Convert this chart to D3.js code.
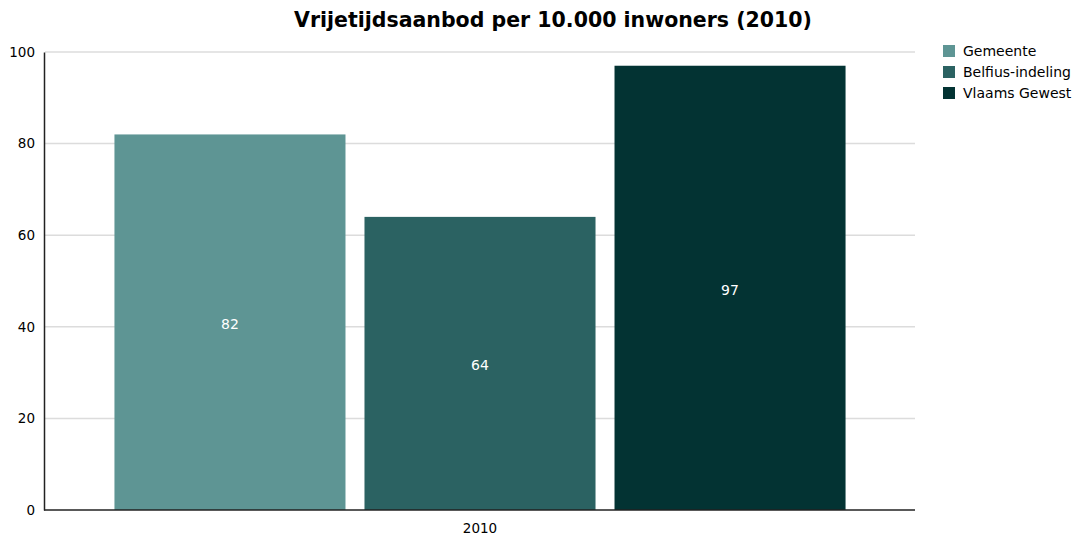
<!DOCTYPE html>
<html>
<head>
<meta charset="utf-8">
<title>Vrijetijdsaanbod</title>
<style>
    body { margin: 0; background: #fff; }
    text { font-family: "DejaVu Sans", Verdana, sans-serif; }
</style>
</head>
<body>
<script src="https://cdn.jsdelivr.net/npm/d3@7"></script>
<script>
    // gegevens
    var categories = ["2010"];
    var series = ["Gemeente", "Belfius-indeling", "Vlaams Gewest"];
    var values = [82, 64, 97];
    var colors = ["#5e9594", "#2b6262", "#033333"];
    var yTicks = [0, 20, 40, 60, 80, 100];

    var width = 1080, height = 542;
    // let op: "top" is een globale van window, dus andere namen
    var plotLeft = 45, plotRight = 915, plotTop = 52, plotBottom = 510;

    var svg = d3.select("body").append("svg")
        .attr("width", width)
        .attr("height", height);

    var y = d3.scaleLinear().domain([0, 100]).range([plotBottom, plotTop]);

    var x0 = d3.scaleBand().domain(categories)
        .range([plotLeft, plotRight])
        .paddingInner(0).paddingOuter(0.095);

    var x1 = d3.scaleBand().domain(series)
        .range([0, x0.bandwidth()])
        .paddingInner(0.076).paddingOuter(0);

    // rasterlijnen
    svg.append("g")
        .selectAll("line")
        .data(yTicks.filter(d => d > 0))
        .join("line")
        .attr("x1", plotLeft).attr("x2", plotRight)
        .attr("y1", d => y(d)).attr("y2", d => y(d))
        .attr("stroke", "#dcdcdc")
        .attr("stroke-width", 1.5);

    // y-as
    var yAxis = svg.append("g")
        .attr("transform", `translate(${plotLeft - 1},0)`)
        .call(d3.axisLeft(y).tickValues(yTicks).tickSize(0).tickPadding(9));
    yAxis.select(".domain").attr("stroke", "#222").attr("stroke-width", 1.5);
    yAxis.selectAll("text").attr("font-size", 13.5).attr("fill", "#000")
        .style("font-family", "'DejaVu Sans', Verdana, sans-serif");

    // staven
    var group = svg.append("g")
        .selectAll("g")
        .data(categories)
        .join("g")
        .attr("transform", d => `translate(${x0(d)},0)`);

    var bars = group.selectAll("g")
        .data(c => series.map((s, i) => ({ s: s, v: values[i], i: i })))
        .join("g");

    bars.append("rect")
        .attr("x", d => x1(d.s))
        .attr("y", d => y(d.v))
        .attr("width", x1.bandwidth())
        .attr("height", d => y(0) - y(d.v))
        .attr("fill", d => colors[d.i]);

    bars.append("text")
        .attr("x", d => x1(d.s) + x1.bandwidth() / 2)
        .attr("y", d => y(d.v / 2) + 2)
        .attr("dy", "0.35em")
        .attr("text-anchor", "middle")
        .attr("fill", "#fff")
        .attr("font-size", 14)
        .text(d => d.v);

    // x-as
    var xAxis = svg.append("g")
        .attr("transform", `translate(0,${plotBottom})`)
        .call(d3.axisBottom(x0).tickSize(0).tickPadding(13));
    xAxis.select(".domain").attr("stroke", "#222").attr("stroke-width", 1.5)
        .attr("d", `M${plotLeft - 1},0H${plotRight}`);
    xAxis.selectAll("text").attr("font-size", 13.5).attr("fill", "#000")
        .style("font-family", "'DejaVu Sans', Verdana, sans-serif");

    // titel
    svg.append("text")
        .attr("x", 553)
        .attr("y", 27)
        .attr("text-anchor", "middle")
        .attr("font-size", 20.5)
        .attr("font-weight", "bold")
        .attr("fill", "#000")
        .text("Vrijetijdsaanbod per 10.000 inwoners (2010)");

    // legende
    var legend = svg.append("g")
        .selectAll("g")
        .data(series)
        .join("g")
        .attr("transform", (d, i) => `translate(943,${45 + i * 21})`);

    legend.append("rect")
        .attr("width", 12).attr("height", 12)
        .attr("fill", (d, i) => colors[i]);

    legend.append("text")
        .attr("x", 20).attr("y", 6)
        .attr("dy", "0.35em")
        .attr("font-size", 14)
        .attr("fill", "#000")
        .text(d => d);
</script>
</body>
</html>
